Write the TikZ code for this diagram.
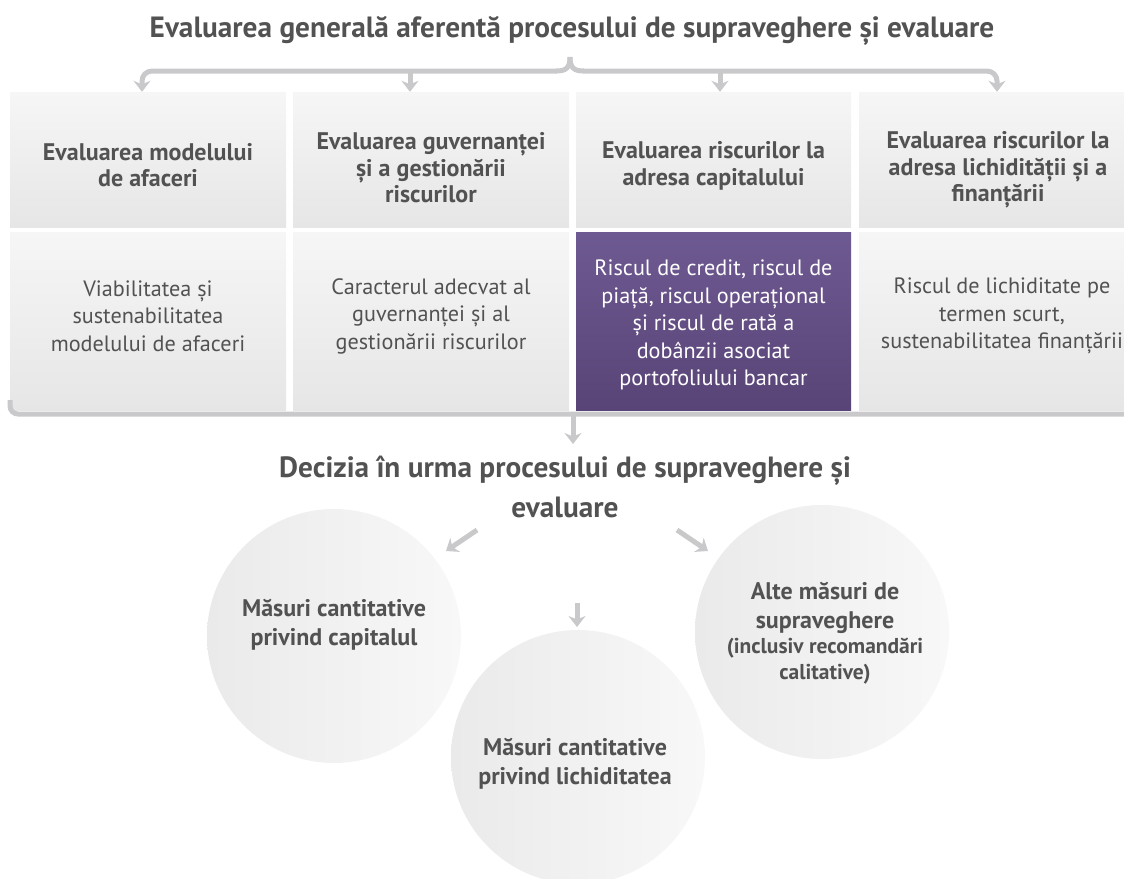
\documentclass[tikz,border=0pt]{standalone}
\usepackage{fontspec}
\setmainfont{PT Sans}
\usetikzlibrary{arrows.meta}
\definecolor{txt}{HTML}{525252}
\definecolor{brk}{HTML}{C9C9CC}
\definecolor{purtop}{HTML}{6E5A92}
\definecolor{purbot}{HTML}{594477}
\definecolor{boxtop}{HTML}{F6F6F6}
\definecolor{boxbot}{HTML}{E6E6E6}
\definecolor{circl}{HTML}{EAEAEA}
\definecolor{circr}{HTML}{F8F8F8}
\tikzset{
  hbox/.style={rectangle, inner sep=0pt, minimum width=276pt, minimum height=135pt, top color=boxtop, bottom color=boxbot, draw=none},
  bbox/.style={rectangle, inner sep=0pt, minimum width=276pt, minimum height=178pt, top color=boxtop, bottom color=boxbot, draw=none},
  pbox/.style={bbox, top color=purtop, bottom color=purbot},
  htext/.style={font=\bfseries\fontsize{24}{26.5}\selectfont, text=txt, align=center, inner sep=0pt},
  btext/.style={font=\fontsize{22.2}{27.5}\selectfont, text=txt, align=center, inner sep=0pt},
  ptext/.style={btext, text=white},
  bracket/.style={draw=brk, line width=5pt},
  tipped/.style={-{Stealth[length=11pt,width=17pt,inset=3.5pt]}},
  circ/.style={circle, minimum size=254pt, left color=circl, right color=circr, draw=none, inner sep=0pt},
  ctext/.style={font=\bfseries\fontsize{24}{28.5}\selectfont, text=txt, align=center, inner sep=0pt},
  ttext/.style={font=\bfseries\fontsize{29.3}{40}\selectfont, text=txt, align=center, inner sep=0pt},
}
\begin{document}
\begin{tikzpicture}[x=1pt,y=-1pt]
\useasboundingbox (0,0) rectangle (1124,878);
% titles
\node[ttext] (t1) at (572,31) {Evaluarea generală aferentă procesului de supraveghere și evaluare};
% header boxes
\node[hbox] (b1) at (148,159.5) {};
\node[hbox] (b2) at (431,159.5) {};
\node[hbox, minimum width=275pt] (b3) at (713.5,159.5) {};
\node[hbox, minimum width=282pt] (b4) at (1000,159.5) {};
\node[htext] (h1) at (148,165) {Evaluarea modelului\\de afaceri};
\node[htext] (h2) at (431,168) {Evaluarea guvernanței\\și a gestionării\\riscurilor};
\node[htext] (h3) at (713.5,166) {Evaluarea riscurilor la\\adresa capitalului};
\node[htext] (h4) at (998,170) {Evaluarea riscurilor la\\adresa lichidității și a\\finanțării};
% body boxes
\node[bbox] (c1) at (148,321) {};
\node[bbox] (c2) at (431,321) {};
\node[pbox, minimum width=275pt] (c3) at (713.5,321) {};
\node[bbox, minimum width=282pt] (c4) at (1000,321) {};
\node[btext] (d1) at (148,316) {Viabilitatea și\\sustenabilitatea\\modelului de afaceri};
\node[btext] (d2) at (431,316) {Caracterul adecvat al\\guvernanței și al\\gestionării riscurilor};
\node[ptext] (d3) at (713.5,325) {Riscul de credit, riscul de\\piață, riscul operațional\\și riscul de rată a\\dobânzii asociat\\portofoliului bancar};
\node[btext] (d4) at (1002,316) {Riscul de lichiditate pe\\termen scurt,\\sustenabilitatea finanțării};
% top bracket
\coordinate (brace) at (570,57);
\draw[bracket] (556,71) .. controls (566,71) and (570,68) .. (brace);
\draw[bracket] (584,71) .. controls (574,71) and (570,68) .. (brace);
\draw[bracket, tipped, rounded corners=10pt] (557,71) -- (142,71) -- ([xshift=-6pt]b1.north);
\draw[bracket, tipped, rounded corners=10pt] (583,71) -- (997,71) -- ([xshift=-3pt]b4.north);
\draw[bracket, tipped] (410,71) -- ([xshift=-21pt]b2.north);
\draw[bracket, tipped] (720,71) -- ([xshift=6.5pt]b3.north);
% bottom bracket
\draw[bracket, rounded corners=8pt] (10,400) -- (10,414) -- (1130,414);
\node[ttext] (t2) at (565,487) {Decizia în urma procesului de supraveghere și\\evaluare};
\draw[bracket, tipped] (573,414) -- (573,444);
% circles
\node[circ] (k1) at (334,636) {};
\node[circ] (k3) at (822,632) {};
\node[circ] (k2) at (578,757) {};
\node[ctext] (m1) at (334,625) {Măsuri cantitative\\privind capitalul};
\node[ctext] (m2) at (575,764) {Măsuri cantitative\\privind lichiditatea};
\node[ctext, align=center] (m3) at (825,633) {Alte măsuri de\\supraveghere\\[-3pt]{\fontsize{21.5}{25}\selectfont (inclusiv recomandări}\\[-3pt]{\fontsize{21.5}{25}\selectfont calitative)}};
% small arrows
\coordinate (a1s) at (477,530);
\coordinate (a1e) at (446,551);
\coordinate (a2s) at (677,530);
\coordinate (a2e) at (708,551);
\coordinate (a3s) at (577,603);
\coordinate (a3e) at (577,627);
\draw[bracket, tipped] (a1s) -- (a1e);
\draw[bracket, tipped] (a2s) -- (a2e);
\draw[bracket, tipped] (a3s) -- (a3e);
\end{tikzpicture}
\end{document}
